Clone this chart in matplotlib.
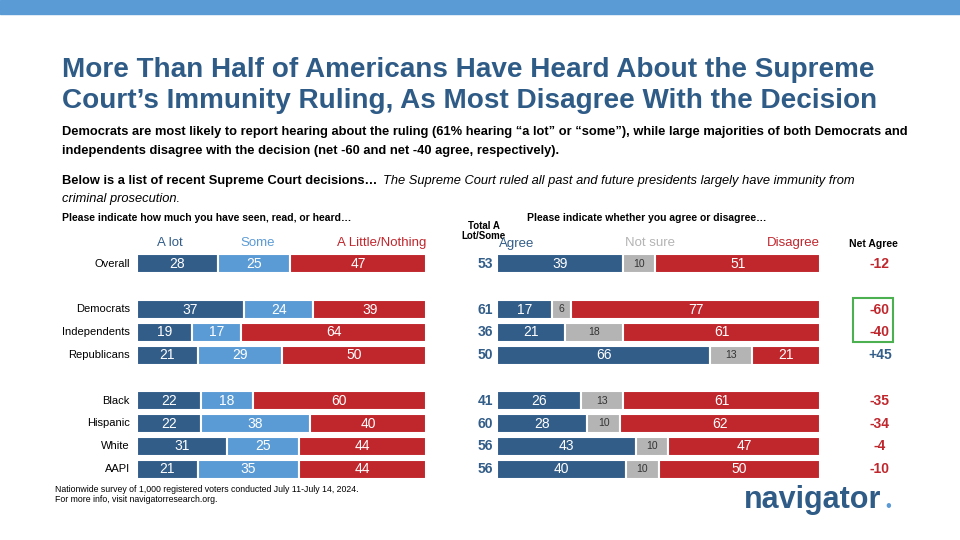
import matplotlib.pyplot as plt
import numpy as np

groups = ["Overall", "Democrats", "Independents", "Republicans", "Black", "Hispanic", "White", "AAPI"]
ypos = [0, 2, 3, 4, 6, 7, 8, 9]
a_lot = [28, 37, 19, 21, 22, 22, 31, 21]
some = [25, 24, 17, 29, 18, 38, 25, 35]
little = [47, 39, 64, 50, 60, 40, 44, 44]
total = [53, 61, 36, 50, 41, 60, 56, 56]
agree = [39, 17, 21, 66, 26, 28, 43, 40]
not_sure = [10, 6, 18, 13, 13, 10, 10, 10]
disagree = [51, 77, 61, 21, 61, 62, 47, 50]
net = ["-12", "-60", "-40", "+45", "-35", "-34", "-4", "-10"]

DARK = "#325d88"
LIGHT = "#5b9bd5"
RED = "#c0272d"
GREY = "#b4b4b4"
TITLE = "#2f5b87"

W, H = 960, 540
fig = plt.figure(figsize=(9.6, 5.4), dpi=100)
plt.rcParams["font.family"] = ["Liberation Sans", "DejaVu Sans"]


def fx(px):
    return px / W


def fy(py):
    return 1 - py / H


fig.add_artist(plt.Rectangle((0, fy(14)), 1, 14 / H, color=LIGHT, transform=fig.transFigure))

fig.text(fx(62), fy(70), "More Than Half of Americans Have Heard About the Supreme", fontsize=20.1,
         weight="bold", color=TITLE, va="center")
fig.text(fx(62), fy(101), "Court’s Immunity Ruling, As Most Disagree With the Decision", fontsize=20.1,
         weight="bold", color=TITLE, va="center")
fig.text(fx(62), fy(132), "Democrats are most likely to report hearing about the ruling (61% hearing “a lot” or “some”), while large majorities of both Democrats and",
         fontsize=9.3, weight="bold", va="center")
fig.text(fx(62), fy(151), "independents disagree with the decision (net -60 and net -40 agree, respectively).",
         fontsize=9.3, weight="bold", va="center")
fig.text(fx(62), fy(181), "Below is a list of recent Supreme Court decisions… ", fontsize=9.3, weight="bold", va="center")
fig.text(fx(383), fy(181), "The Supreme Court ruled all past and future presidents largely have immunity from",
         fontsize=9.3, style="italic", va="center")
fig.text(fx(62), fy(199), "criminal prosecution.", fontsize=9.3, style="italic", va="center")

fig.text(fx(62), fy(218), "Please indicate how much you have seen, read, or heard…", fontsize=7.5, weight="bold", va="center")
fig.text(fx(527), fy(218), "Please indicate whether you agree or disagree…", fontsize=7.5, weight="bold", va="center")
fig.text(fx(484), fy(231), "Total A\nLot/Some", fontsize=7, weight="bold", ha="center", va="center",
         linespacing=1.0)
fig.text(fx(873), fy(244), "Net Agree", fontsize=7.5, weight="bold", ha="center", va="center")

fig.text(fx(170), fy(243), "A lot", fontsize=9.5, color=DARK, ha="center", va="center")
fig.text(fx(258), fy(243), "Some", fontsize=9.5, color=LIGHT, ha="center", va="center")
fig.text(fx(426), fy(243), "A Little/Nothing", fontsize=9.5, color=RED, ha="right", va="center")
fig.text(fx(499), fy(244), "Agree", fontsize=9.5, color=DARK, ha="left", va="center")
fig.text(fx(650), fy(243), "Not sure", fontsize=9.5, color=GREY, ha="center", va="center")
fig.text(fx(820), fy(243), "Disagree", fontsize=9.5, color=RED, ha="right", va="center")

bottom = fy(480.5)
height = 228 / H


def stacked(ax, series, colors, txtcolors):
    left = np.zeros(len(groups))
    for vals, col, tc in zip(series, colors, txtcolors):
        vals = np.array(vals)
        ax.barh(ypos, vals, left=left, height=0.84, color=col, edgecolor="white", linewidth=1.5)
        for y, l, v in zip(ypos, left, vals):
            ax.text(l + v / 2, y, str(v), ha="center", va="center", fontsize=10 if tc == "white" else 7.5,
                    color=tc)
        left += vals
    ax.set_xlim(0, 100)
    ax.set_ylim(9.5, -0.5)
    ax.axis("off")


axl = fig.add_axes([fx(137), bottom, 289 / W, height])
stacked(axl, [a_lot, some, little], [DARK, LIGHT, RED], ["white", "white", "white"])
axr = fig.add_axes([fx(497), bottom, 323 / W, height])
stacked(axr, [agree, not_sure, disagree], [DARK, GREY, RED], ["white", "#333333", "white"])

for y, g, tot, n in zip(ypos, groups, total, net):
    axl.text(-2.5, y, g, ha="right", va="center", fontsize=8)
    axl.text(120.5, y, str(tot), ha="center", va="center", fontsize=10, weight="bold", color=DARK)
    axr.text(118.5, y, n, ha="center", va="center", fontsize=10, weight="bold",
             color=DARK if n.startswith("+") else RED)

fig.add_artist(plt.Rectangle((fx(853), fy(342)), 40 / W, 44 / H, fill=False, edgecolor="#4caf50",
                             linewidth=1.5, transform=fig.transFigure))

fig.text(fx(55), fy(489), "Nationwide survey of 1,000 registered voters conducted July 11-July 14, 2024.",
         fontsize=6.3, va="center")
fig.text(fx(55), fy(499), "For more info, visit navigatorresearch.org.", fontsize=6.3, va="center")
fig.text(fx(744), fy(500), "navigator", fontsize=22, weight="bold", color=TITLE, va="center")
fig.text(fx(885), fy(506), "•", fontsize=12, color=LIGHT, va="center")

fig.savefig("out.png", dpi=100)
